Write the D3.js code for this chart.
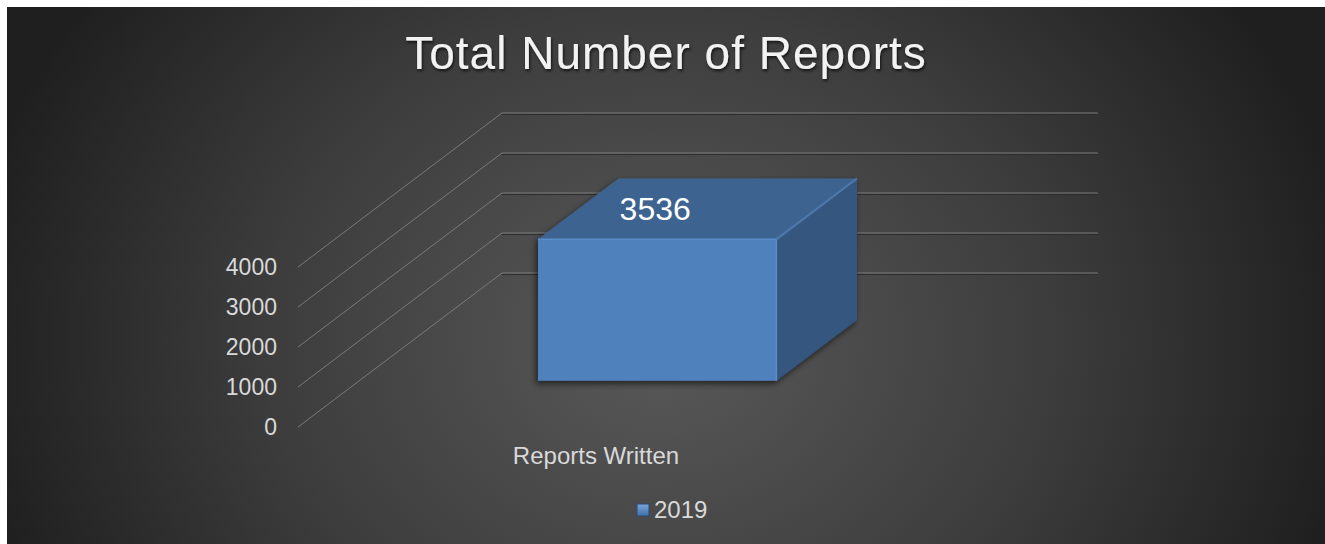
<!DOCTYPE html>
<html>
<head>
<meta charset="utf-8">
<script src="https://cdn.jsdelivr.net/npm/d3@7"></script>
<style>
  html, body { margin: 0; padding: 0; background: #fff; }
  svg { display: block; }
  text { font-family: "Liberation Sans", Arial, sans-serif; }
</style>
</head>
<body>
<svg id="chart"></svg>
<script>
const categories = ["Reports Written"];
const seriesNames = ["2019"];
const values2019 = [3536];
const yTicks = [0, 1000, 2000, 3000, 4000];
const chartTitle = "Total Number of Reports";

const W = 1325, H = 544;
// front-left corner of the floor and the depth offset of the back wall
const FLOOR_X = 298, FLOOR_Y = 427, FLOOR_W = 596;
const DEPTH_DX = 204, DEPTH_DY = 154;
const BAR_Z0 = 0.3, BAR_Z1 = 0.695;

const svg = d3.select("#chart").attr("width", W).attr("height", H);
const defs = svg.append("defs");

const bg = defs.append("radialGradient")
  .attr("id", "bg")
  .attr("gradientUnits", "userSpaceOnUse")
  .attr("cx", 660).attr("cy", 340).attr("r", 700)
  .attr("gradientTransform", "translate(660,340) scale(1,0.85) translate(-660,-340)");
bg.append("stop").attr("offset", "0").attr("stop-color", "#595959");
bg.append("stop").attr("offset", "0.55").attr("stop-color", "#3d3d3d");
bg.append("stop").attr("offset", "1").attr("stop-color", "#1f1f1f");

const shadow = defs.append("filter").attr("id", "barShadow")
  .attr("x", "-20%").attr("y", "-20%").attr("width", "140%").attr("height", "140%");
shadow.append("feDropShadow").attr("dx", -2).attr("dy", 3)
  .attr("stdDeviation", 3).attr("flood-color", "#000").attr("flood-opacity", 0.6);

const textShadow = defs.append("filter").attr("id", "textShadow");
textShadow.append("feDropShadow").attr("dx", 1).attr("dy", 2)
  .attr("stdDeviation", 1.5).attr("flood-color", "#000").attr("flood-opacity", 0.7);

const legendGrad = defs.append("linearGradient").attr("id", "legendGrad")
  .attr("x1", 0).attr("y1", 0).attr("x2", 0).attr("y2", 1);
legendGrad.append("stop").attr("offset", "0").attr("stop-color", "#7aa6dc");
legendGrad.append("stop").attr("offset", "1").attr("stop-color", "#3f6ea8");

svg.append("rect")
  .attr("x", 7).attr("y", 7)
  .attr("width", W - 7).attr("height", H - 7)
  .attr("fill", "url(#bg)");

const x = d3.scaleBand()
  .domain(categories)
  .range([FLOOR_X, FLOOR_X + FLOOR_W])
  .padding(0);

const y = d3.scaleLinear()
  .domain([0, d3.max(yTicks)])
  .range([0, 160]);

// oblique projection: front-plane x, value, depth (0 front .. 1 back)
function proj(px, v, z) {
  return [px + z * DEPTH_DX, FLOOR_Y - z * DEPTH_DY - y(v)];
}
const line = d3.line();

// gridlines: back wall and side wall
const grid = svg.append("g");
yTicks.forEach((t) => {
  const [x0, x1] = x.range();
  grid.append("path")
    .attr("d", line([proj(x0, t, 1), proj(x1, t, 1)]))
    .attr("transform", "translate(0,1.5)")
    .attr("stroke", "#2c2c2c").attr("stroke-width", 1.2).attr("fill", "none");
  grid.append("path")
    .attr("d", line([proj(x0, t, 0), proj(x0, t, 1), proj(x1, t, 1)]))
    .attr("stroke", "#7a7a7a").attr("stroke-width", 1).attr("fill", "none");
});

// y axis labels
svg.append("g").selectAll("text")
  .data(yTicks)
  .join("text")
  .attr("x", FLOOR_X - 21)
  .attr("y", (d) => proj(FLOOR_X, d, 0)[1])
  .attr("dy", "0.35em")
  .attr("text-anchor", "end")
  .attr("font-size", 23)
  .attr("fill", "#d9d9d9")
  .text((d) => d);

// bars
const bars = svg.append("g").attr("filter", "url(#barShadow)");
categories.forEach((c, i) => {
  const v = values2019[i];
  const bw = x.bandwidth() * 0.4;
  const bx0 = x(c) + (x.bandwidth() - bw) / 2;
  const bx1 = bx0 + bw;
  const g = bars.append("g");
  // right face
  g.append("path")
    .attr("d", line([proj(bx1, 0, BAR_Z0), proj(bx1, 0, BAR_Z1), proj(bx1, v, BAR_Z1), proj(bx1, v, BAR_Z0)]) + "Z")
    .attr("fill", "#34567f");
  // top face
  g.append("path")
    .attr("d", line([proj(bx0, v, BAR_Z0), proj(bx0, v, BAR_Z1), proj(bx1, v, BAR_Z1), proj(bx1, v, BAR_Z0)]) + "Z")
    .attr("fill", "#3d6491");
  // front face
  g.append("path")
    .attr("d", line([proj(bx0, 0, BAR_Z0), proj(bx0, v, BAR_Z0), proj(bx1, v, BAR_Z0), proj(bx1, 0, BAR_Z0)]) + "Z")
    .attr("fill", "#4f81bd");
  // soft highlights on the edges
  g.append("path")
    .attr("d", line([proj(bx1, v, BAR_Z0), proj(bx1, v, BAR_Z1)]))
    .attr("stroke", "#4d79ad").attr("stroke-width", 2).attr("fill", "none");
  g.append("path")
    .attr("d", line([proj(bx0, v, BAR_Z0), proj(bx1, v, BAR_Z0)]))
    .attr("stroke", "#5a8cc8").attr("stroke-width", 1.5).attr("fill", "none");
  g.append("path")
    .attr("d", line([proj(bx1, 0, BAR_Z0), proj(bx1, v, BAR_Z0)]))
    .attr("stroke", "#5a8cc8").attr("stroke-width", 1.5).attr("fill", "none");

  // data label
  const top = proj(bx0 + bw / 2, v, BAR_Z0);
  svg.append("text")
    .attr("x", top[0] - 2)
    .attr("y", top[1] - 19)
    .attr("text-anchor", "middle")
    .attr("font-size", 32)
    .attr("fill", "#ffffff")
    .text(v);
});

// category labels
svg.append("g").selectAll("text")
  .data(categories)
  .join("text")
  .attr("x", (d) => x(d) + x.bandwidth() / 2)
  .attr("y", FLOOR_Y + 37)
  .attr("text-anchor", "middle")
  .attr("font-size", 24)
  .attr("fill", "#d9d9d9")
  .text((d) => d);

// title
svg.append("text")
  .attr("x", 666)
  .attr("y", 69)
  .attr("text-anchor", "middle")
  .attr("font-size", 46)
  .attr("letter-spacing", 1)
  .attr("fill", "#f2f2f2")
  .attr("filter", "url(#textShadow)")
  .text(chartTitle);

// legend
const legend = svg.append("g").attr("transform", "translate(637,504)");
seriesNames.forEach((s, i) => {
  legend.append("rect")
    .attr("width", 12).attr("height", 12)
    .attr("fill", "url(#legendGrad)")
    .attr("stroke", "#2d4a6e").attr("stroke-width", 1);
  legend.append("text")
    .attr("x", 17).attr("y", 14)
    .attr("font-size", 24)
    .attr("fill", "#d9d9d9")
    .text(s);
});
</script>
</body>
</html>
